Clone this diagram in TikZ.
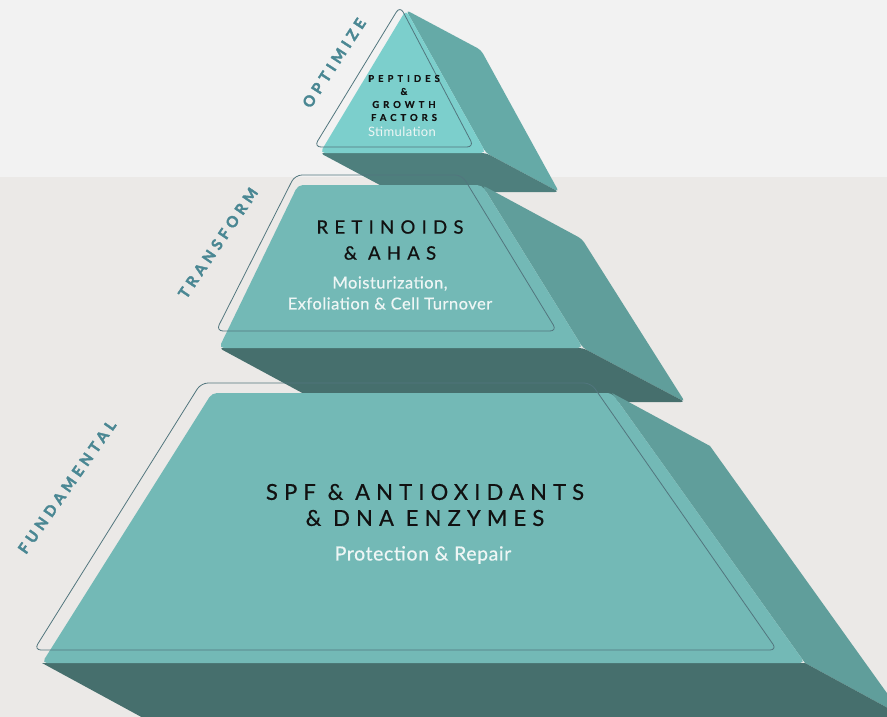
\documentclass[tikz,border=0pt]{standalone}
\usepackage{fontspec}
\setmainfont{Lato}
\definecolor{bgtop}{HTML}{F2F2F2}
\definecolor{bgbot}{HTML}{EBE9E7}
\definecolor{front}{HTML}{73B9B6}
\definecolor{side}{HTML}{609E9B}
\definecolor{under}{HTML}{466F6D}
\definecolor{fronta}{HTML}{7CCFCC}
\definecolor{sidea}{HTML}{65AAA7}
\definecolor{undera}{HTML}{4E7F7D}
\definecolor{rim}{HTML}{52767E}
\definecolor{lab}{HTML}{4A8793}
\definecolor{subt}{HTML}{EEF6F5}
\definecolor{head}{HTML}{111111}
\tikzset{
  frontface/.style={fill=#1, rounded corners=5pt},
  rimline/.style={draw=rim, line width=0.8pt, rounded corners=7pt},
  headtxt/.style={text=head, align=center, inner sep=0pt},
  subtxt/.style={text=subt, align=center, inner sep=0pt},
  labtxt/.style={text=lab, inner sep=0pt, font=\fontsize{15}{17}\selectfont\bfseries\addfontfeatures{LetterSpace=30,FakeBold=2.5}}
}
\begin{document}
\begin{tikzpicture}[x=1pt,y=-1pt]
\useasboundingbox (0,0) rectangle (887,717);
\clip (0,0) rectangle (887,717);
\fill[bgtop] (0,0) rectangle (887,177);
\fill[bgbot] (0,177) rectangle (887,717);

% ---- top triangle ----
\fill[sidea, rounded corners=4pt] (406,10) -- (481,50) -- (559,192) -- (486,153) -- cycle;
\fill[undera, rounded corners=4pt] (320,153) -- (486,153) -- (559,192) -- (393,192) -- cycle;
\fill[frontface=fronta] (406,10) -- (486,153) -- (320,153) -- cycle;

% ---- middle trapezoid ----
\fill[side, rounded corners=4pt] (482,185) -- (582,239) -- (685,402) -- (583,348) -- cycle;
\fill[under, rounded corners=4pt] (219,348) -- (583,348) -- (685,402) -- (319,402) -- cycle;
\fill[frontface=front] (298,185) -- (482,185) -- (583,348) -- (219,348) -- cycle;

% ---- bottom trapezoid ----
\fill[side] (612,393) -- (710,446) -- (1000,851) -- (932,732) -- (805,663) -- cycle;
\fill[under] (42,663) -- (805,663) -- (932,732) -- (169,732) -- cycle;
\fill[frontface=front] (212,393) -- (612,393) -- (805,663) -- (42,663) -- cycle;

% ---- outlines ----
\draw[rimline] (400,6) -- (474,147) -- (314,147) -- cycle;
\draw[rimline] (295,175) -- (462,175) -- (557,331) -- (216,331) -- cycle;
\draw[rimline] (201,383) -- (591,383) -- (777,650) -- (34,650) -- cycle;

% ---- texts ----
\node[headtxt, font=\fontsize{9.5}{13}\selectfont\bfseries\addfontfeatures{LetterSpace=42,FakeBold=0.5}] (t1) at (404,98) {PEPTIDES\\\&\\GROWTH\\FACTORS};
\node[subtxt, font=\fontsize{13}{14}\selectfont\addfontfeatures{LetterSpace=3}] (s1) at (402,132) {Stimulation};

\node[headtxt, font=\fontsize{18.5}{26}\selectfont\addfontfeatures{LetterSpace=34,FakeBold=0.6}] (t2) at (390,240) {RETINOIDS\\\& AHAS};
\node[subtxt, font=\fontsize{16.5}{21}\selectfont\addfontfeatures{LetterSpace=3,FakeBold=0.4}] (s2) at (390,293) {Moisturization,\\Exfoliation \& Cell Turnover};

\node[headtxt, font=\fontsize{22}{26}\selectfont\addfontfeatures{LetterSpace=28,FakeBold=0.6}] (t3) at (425,505) {SPF \& ANTIOXIDANTS\\\& DNA ENZYMES};
\node[subtxt, font=\fontsize{19.5}{22}\selectfont\addfontfeatures{LetterSpace=3,FakeBold=0.4}] (s3) at (423,555) {Protection \& Repair};

\node[labtxt, rotate=57] (l1) at (334,63) {OPTIMIZE};
\node[labtxt, rotate=56] (l2) at (218,243) {TRANSFORM};
\node[labtxt, rotate=55] (l3) at (67,487) {FUNDAMENTAL};
\end{tikzpicture}
\end{document}
